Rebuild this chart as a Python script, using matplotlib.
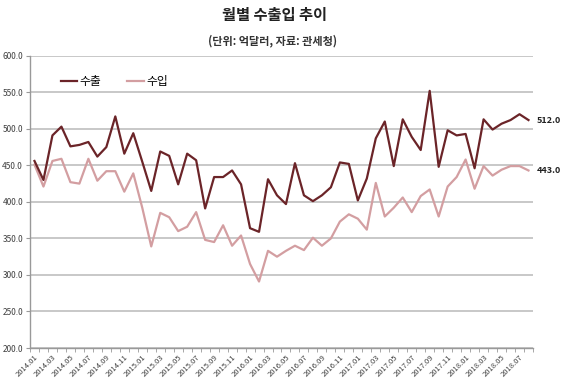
import numpy as np
import matplotlib.pyplot as plt

plt.rcParams['font.family'] = ['Noto Sans CJK KR', 'DejaVu Sans']

# monthly data, 2014.01 - 2018.08 (unit: 억달러)
months = [f"{y}.{m:02d}" for y in range(2014, 2019) for m in range(1, 13)][:56]

exports = [456, 430, 491, 503, 476, 478, 482, 462, 475, 517, 466, 494,
           455, 415, 469, 463, 424, 466, 457, 391, 434, 434, 443, 424,
           364, 359, 431, 409, 397, 453, 409, 401, 409, 420, 454, 452,
           402, 432, 487, 510, 449, 513, 489, 471, 552, 448, 498, 491,
           493, 446, 513, 499, 507, 512, 520, 512]
imports = [451, 421, 456, 459, 427, 425, 459, 429, 442, 442, 414, 439,
           392, 339, 385, 379, 360, 366, 386, 348, 345, 368, 340, 354,
           315, 291, 333, 325, 333, 340, 334, 351, 340, 350, 373, 383,
           377, 362, 426, 380, 392, 406, 386, 408, 417, 380, 421, 434,
           458, 418, 449, 436, 444, 449, 449, 443]

c_exp = '#6b2428'
c_imp = '#d39ea1'
grid_c = '#bfbfbf'
txt_c = '#404040'

fig = plt.figure(figsize=(5.69, 3.82), dpi=100)
ax = fig.add_axes([0.0527, 0.089, 0.884, 0.765])

x = np.arange(len(months))
ax.plot(x, exports, color=c_exp, lw=1.6, label='수출', zorder=3)
ax.plot(x, imports, color=c_imp, lw=1.6, label='수입', zorder=2)

ax.set_xlim(-0.5, len(months) - 0.5)
ax.set_ylim(200, 600)
ax.set_yticks(np.arange(200, 601, 50))
ax.set_yticklabels([f"{v:.1f}" for v in np.arange(200, 601, 50)],
                   fontsize=6, color=txt_c)
ax.yaxis.grid(True, color=grid_c, lw=1.2)
ax.set_axisbelow(True)

ax.set_xticks(x[::2])
ax.set_xticklabels(months[::2], rotation=45, ha='right',
                   rotation_mode='anchor', fontsize=5.5, color=txt_c)
ax.set_xticks(np.arange(-0.5, len(months)), minor=True)
ax.tick_params(axis='x', which='major', length=0, pad=4)
ax.tick_params(axis='x', which='minor', length=3, color='#999999')
ax.tick_params(axis='y', length=3, color='#999999', pad=2)

for s in ['top', 'right']:
    ax.spines[s].set_visible(False)
for s in ['left', 'bottom']:
    ax.spines[s].set_color('#999999')
    ax.spines[s].set_linewidth(1)

ax.annotate(f"{exports[-1]:.1f}", (x[-1], exports[-1]), xytext=(6, 0),
            textcoords='offset points', va='center', fontsize=6.5,
            fontweight='bold', color='#222222', annotation_clip=False)
ax.annotate(f"{imports[-1]:.1f}", (x[-1], imports[-1]), xytext=(6, 0),
            textcoords='offset points', va='center', fontsize=6.5,
            fontweight='bold', color='#222222', annotation_clip=False)

ax.legend(loc='upper left', bbox_to_anchor=(0.04, 0.97), ncol=2,
          frameon=False, fontsize=8.5, handlelength=1.4, handletextpad=0.2,
          columnspacing=2.2)

fig.text(0.482, 0.962, '월별 수출입 추이', ha='center', va='center',
         fontsize=11, fontweight='bold', color='#222222')
fig.text(0.479, 0.892, '(단위: 억달러, 자료: 관세청)', ha='center',
         va='center', fontsize=8, fontweight='bold', color='#333333')

fig.savefig('out.png', dpi=100)
